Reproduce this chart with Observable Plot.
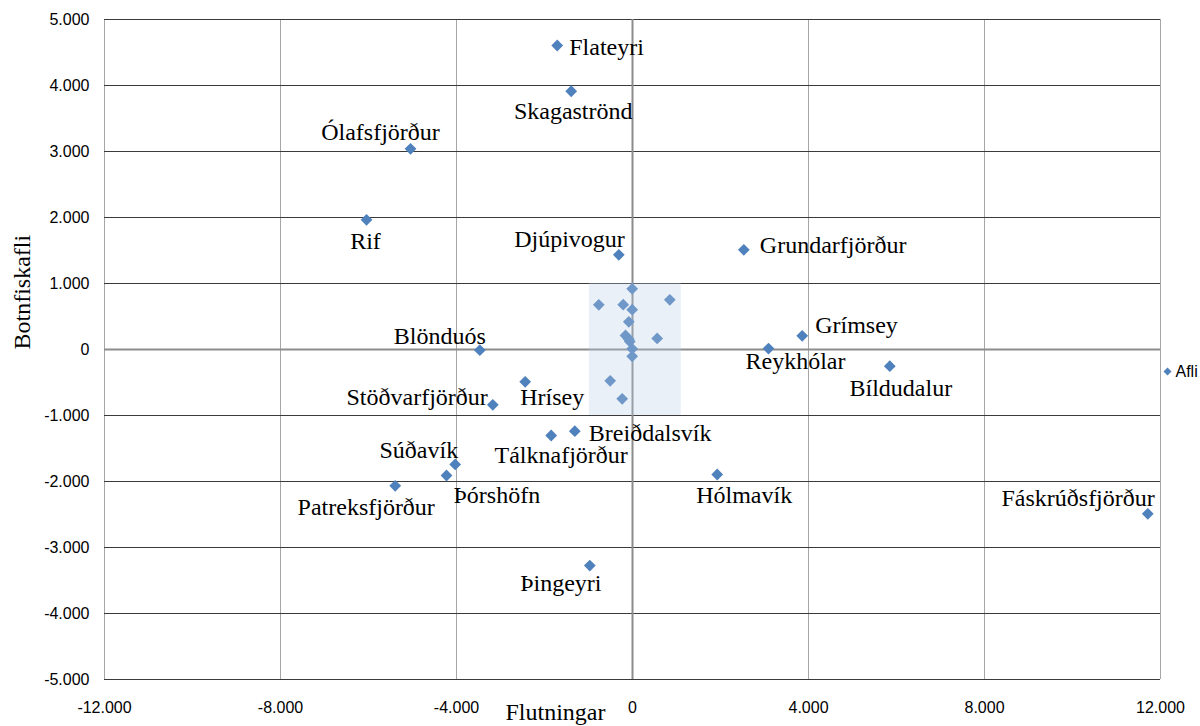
<!DOCTYPE html>
<html>
<head>
<meta charset="utf-8">
<script src="https://cdn.jsdelivr.net/npm/d3@7"></script>
<script src="https://cdn.jsdelivr.net/npm/@observablehq/plot@0.6"></script>
<style>
  body { margin: 0; background: #fff; }
  #chart { width: 1200px; height: 726px; }
  #chart svg g.serif-label text { font-family: "Liberation Serif", "Times New Roman", "DejaVu Serif", serif; }
</style>
</head>
<body>
<div id="chart"></div>
<script>
// ---- Data ----
const names = ["Flateyri", "Skagaströnd", "Ólafsfjörður", "Rif", "Djúpivogur", "Grundarfjörður",
  "Grímsey", "Reykhólar", "Bíldudalur", "Fáskrúðsfjörður", "Breiðdalsvík", "Tálknafjörður",
  "Súðavík", "Þórshöfn", "Patreksfjörður", "Hólmavík", "Þingeyri", "Blönduós", "Stöðvarfjörður", "Hrísey"];
const flutningar = [-1711, -1393, -5045, -6045, -311, 2530,
  3857, 3091, 5848, 11711, -1311, -1848,
  -4030, -4227, -5393, 1925, -970, -3470, -3175, -2439];
const botnfiskafli = [4606, 3913, 3041, 1965, 1435, 1510,
  208, 15, -253, -2489, -1238, -1303,
  -1742, -1909, -2065, -1894, -3273, -11, -838, -489];

// unlabelled points in the highlighted cluster
const clusterFlutningar = [-7, -766, -211, -7, 848, -84, -159, -84, 561, -7, -7, -507, -234, -61];
const clusterBotnfiskafli = [920, 677, 679, 603, 753, 420, 212, 156, 167, 11, -103, -474, -747, 121];

// highlighted region
const highlightX = [-980, 1110];
const highlightY = [-1000, 1000];

const xTicks = [-12000, -8000, -4000, 0, 4000, 8000, 12000];
const yTicks = [-5000, -4000, -3000, -2000, -1000, 0, 1000, 2000, 3000, 4000, 5000];
const seriesName = "Afli";
const xTitle = "Flutningar";
const yTitle = "Botnfiskafli";

// ---- Label layout (styling only): [textAnchor, dx, dy] ----
const labelLayout = {
  "Flateyri": ["start", 12, 2],
  "Skagaströnd": ["middle", 2, 20],
  "Ólafsfjörður": ["middle", -30, -16],
  "Rif": ["middle", -1, 22],
  "Djúpivogur": ["end", 6, -15],
  "Grundarfjörður": ["start", 16, -5],
  "Grímsey": ["start", 13, -10],
  "Reykhólar": ["middle", 27, 13],
  "Bíldudalur": ["middle", 11, 22],
  "Fáskrúðsfjörður": ["end", 7, -15],
  "Breiðdalsvík": ["start", 14, 2],
  "Tálknafjörður": ["middle", 10, 20],
  "Súðavík": ["end", 3, -14],
  "Þórshöfn": ["start", 7, 20],
  "Patreksfjörður": ["middle", -29, 22],
  "Hólmavík": ["middle", 27, 21],
  "Þingeyri": ["middle", -29, 18],
  "Blönduós": ["end", 6, -14],
  "Stöðvarfjörður": ["end", -5, -7],
  "Hrísey": ["start", -5, 16]
};

const locale = d3.formatLocale({decimal: ",", thousands: ".", grouping: [3], currency: ["", ""], minus: "-"});
const fmt = locale.format(",d");

const points = names.map((n, i) => ({name: n, x: flutningar[i], y: botnfiskafli[i]}));
const cluster = clusterFlutningar.map((x, i) => ({x, y: clusterBotnfiskafli[i]}));
const allPoints = points.concat(cluster);
const highlight = [{x1: highlightX[0], x2: highlightX[1], y1: highlightY[0], y2: highlightY[1]}];

const serif = "Liberation Serif, Times New Roman, DejaVu Serif, serif";
const sans = "Liberation Sans, Arial, sans-serif";
const blue = "#4f81bd";

const labelMarks = points.map(p => {
  const [anchor, dx, dy] = labelLayout[p.name];
  return Plot.text([p], {x: "x", y: "y", text: "name", textAnchor: anchor, dx, dy,
    lineAnchor: "middle", fontFamily: serif, fontSize: 24, fill: "#000", className: "serif-label"});
});

const chart = Plot.plot({
  width: 1200,
  height: 726,
  marginLeft: 104,
  marginRight: 40,
  marginTop: 19,
  marginBottom: 47,
  x: {domain: [-12000, 12000]},
  y: {domain: [-5000, 5000]},
  style: {fontFamily: sans, background: "#fff", overflow: "visible"},
  marks: [
    Plot.ruleX(xTicks, {stroke: "#a6a6a6", strokeWidth: 1}),
    Plot.ruleY(yTicks, {stroke: "#3a3a3a", strokeWidth: 1}),
    Plot.ruleX([0], {stroke: "#8c8c8c", strokeWidth: 2}),
    Plot.ruleY([0], {stroke: "#8c8c8c", strokeWidth: 2}),
    Plot.dot(allPoints, {x: "x", y: "y", symbol: "diamond2", r: 5.3, fill: blue, stroke: "none"}),
    Plot.rect(highlight, {x1: "x1", x2: "x2", y1: "y1", y2: "y2", fill: "#b8cce4", fillOpacity: 0.3}),
    ...labelMarks,
    Plot.axisX(xTicks, {tickSize: 0, tickPadding: 22, tickFormat: fmt, fontSize: 16, label: null, fill: "#000"}),
    Plot.axisY(yTicks, {tickSize: 0, tickPadding: 15, tickFormat: fmt, fontSize: 16, label: null, fill: "#000"}),
    Plot.text([xTitle], {frameAnchor: "bottom", dx: -77, dy: 33, lineAnchor: "middle",
      fontFamily: serif, fontSize: 24, fill: "#000", className: "serif-label"}),
    Plot.text([yTitle], {frameAnchor: "left", dx: -82, dy: 0, rotate: -90, lineAnchor: "middle",
      fontFamily: serif, fontSize: 24, fill: "#000", className: "serif-label"}),
    // legend
    Plot.dot([seriesName], {x: null, y: null, frameAnchor: "right", dx: 7, dy: 22,
      symbol: "diamond2", r: 3.6, fill: blue, stroke: "none"}),
    Plot.text([seriesName], {frameAnchor: "right", dx: 15, dy: 22, textAnchor: "start",
      lineAnchor: "middle", fontSize: 16, fill: "#000"})
  ]
});
document.getElementById("chart").appendChild(chart);
// make sure the serif face reaches every label text element
d3.select(chart).selectAll("g.serif-label text").style("font-family", serif);
</script>
</body>
</html>
